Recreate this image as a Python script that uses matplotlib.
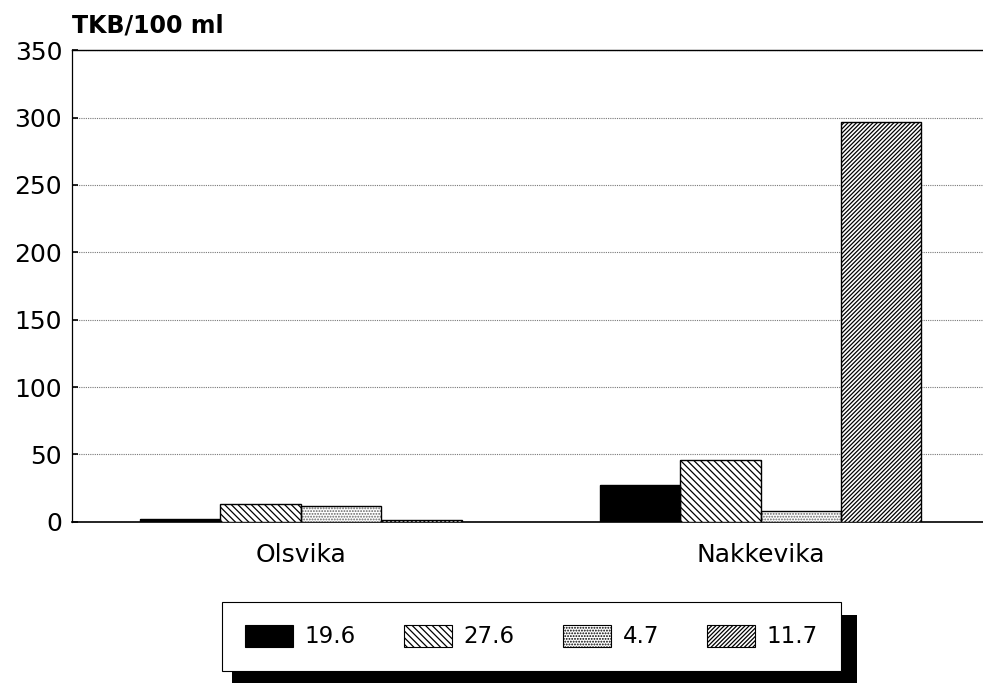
import numpy as np
import matplotlib.pyplot as plt
from matplotlib.patches import Rectangle

plt.rcParams['font.family'] = ['DejaVu Sans']
plt.rcParams['hatch.linewidth'] = 0.9

sites = ['Olsvika', 'Nakkevika']
series = ['19.6', '27.6', '4.7', '11.7']
v_196 = [2, 27]
v_276 = [13, 46]
v_47 = [12, 8]
v_117 = [1, 297]
values = [v_196, v_276, v_47, v_117]
yticks = [0, 50, 100, 150, 200, 250, 300, 350]

styles = [
    dict(facecolor='black', hatch=None, edgecolor='black'),
    dict(facecolor='white', hatch='\\' * 5, edgecolor='black'),
    dict(facecolor='white', hatch='.' * 6, edgecolor='#666666'),
    dict(facecolor='white', hatch='/' * 8, edgecolor='black'),
]

fig = plt.figure(figsize=(9.83, 6.83), dpi=100)
ax = fig.add_axes([0.0732, 0.236, 0.9268, 0.6906])

x = np.arange(len(sites))
w = 0.175
for i, (vals, st) in enumerate(zip(values, styles)):
    ax.bar(x + (i - 1.5) * w, vals, w, label=series[i],
           facecolor=st['facecolor'], hatch=st['hatch'],
           edgecolor=st['edgecolor'], linewidth=0, zorder=3)
    # black outline
    ax.bar(x + (i - 1.5) * w, vals, w, facecolor='none',
           edgecolor='black', linewidth=1.0, zorder=4)

ax.set_xlim(-0.498, 1.484)
ax.set_ylim(0, 350)
ax.set_yticks(yticks)
ax.set_xticks(x)
ax.set_xticklabels(sites)
ax.yaxis.grid(True, linestyle=(0, (1, 1)), color='#777777', linewidth=0.8, zorder=0)
ax.spines['right'].set_visible(False)
ax.spines['top'].set_linewidth(1.0)
ax.spines['left'].set_linewidth(0.9)
ax.spines['bottom'].set_linewidth(1.2)
ax.tick_params(axis='y', labelsize=18, direction='in', length=4, width=1.2, pad=7)
ax.tick_params(axis='x', labelsize=18, length=0, pad=15)

fig.text(0.073, 0.963, 'TKB/100 ml', fontsize=17, fontweight='bold', ha='left', va='center')

handles = [Rectangle((0, 0), 1, 1, facecolor=st['facecolor'], hatch=st['hatch'],
                     edgecolor='black', linewidth=0.8) for st in styles]
leg = fig.legend(handles, series, loc='center', bbox_to_anchor=(0.5407, 0.068),
                 ncol=4, fontsize=16.5, frameon=True, fancybox=False, framealpha=1,
                 handlelength=2.1, handleheight=1.1, handletextpad=0.5,
                 columnspacing=2.1, borderpad=1.0, borderaxespad=0)
leg.get_frame().set_edgecolor('black')
leg.get_frame().set_facecolor('white')
leg.get_frame().set_linewidth(0.8)
leg.set_zorder(10)

# black drop shadow of the legend box
fig.patches.append(Rectangle((232 / 983, 0.0), (857 - 232) / 983, 0.10,
                             transform=fig.transFigure, facecolor='black',
                             edgecolor='none', zorder=1))

fig.savefig('out.png', dpi=100)
